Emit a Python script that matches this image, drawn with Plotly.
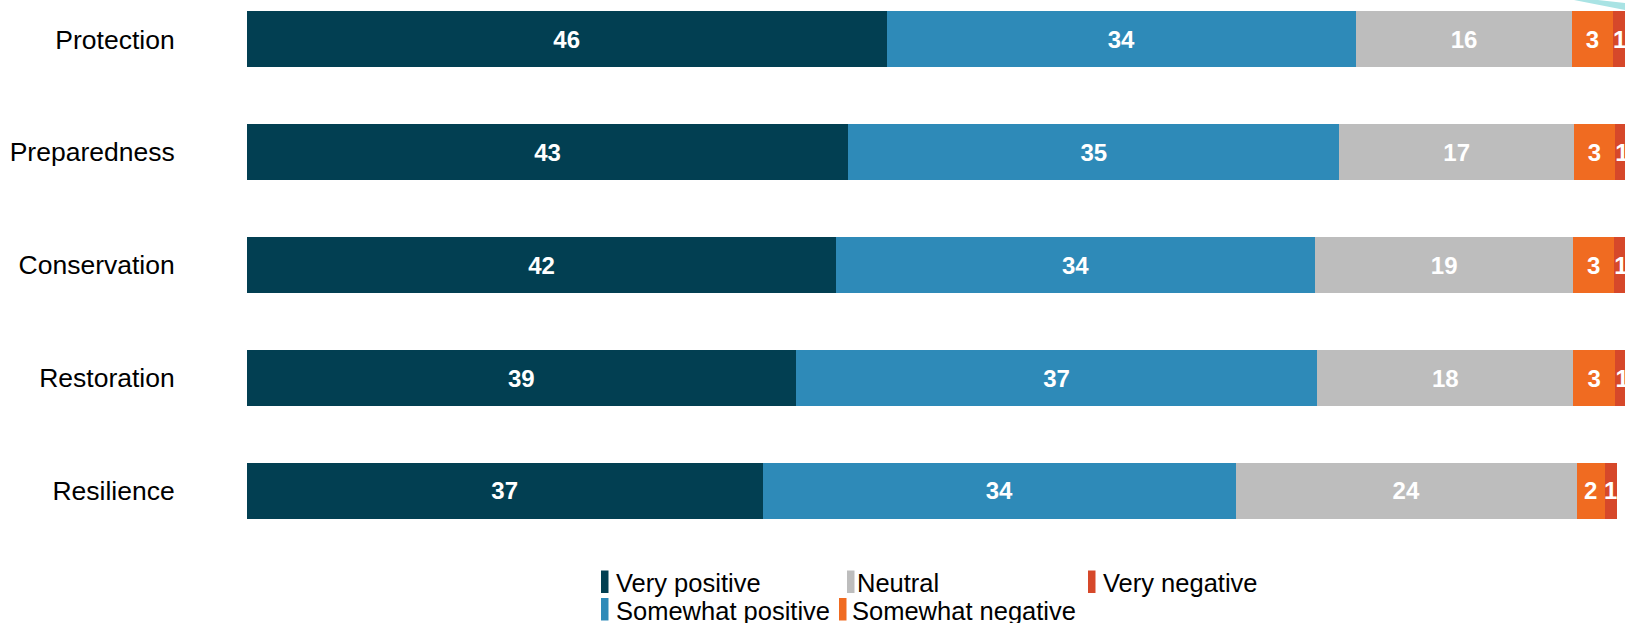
import plotly.graph_objects as go

W, H = 1625, 623

categories = ["Protection", "Preparedness", "Conservation", "Restoration", "Resilience"]
series_names = ["Very positive", "Somewhat positive", "Neutral", "Somewhat negative", "Very negative"]
very_positive = [45.98, 43.22, 42.36, 39.45, 37.07]
somewhat_positive = [33.71, 35.27, 34.39, 37.47, 34.00]
neutral = [15.54, 16.88, 18.56, 18.39, 24.47]
somewhat_negative = [2.90, 2.92, 2.92, 3.00, 2.03]
very_negative = [1.0, 1.0, 1.0, 1.0, 0.84]

colors = ["#023f52", "#2e8ab8", "#bdbdbd", "#f06b21", "#d6482a"]
series = [very_positive, somewhat_positive, neutral, somewhat_negative, very_negative]

FONT = "Liberation Sans, Arial, Helvetica, sans-serif"

fig = go.Figure()
for name, vals, col in zip(series_names, series, colors):
    fig.add_trace(go.Bar(
        y=categories, x=vals, name=name, orientation="h",
        marker=dict(color=col, line=dict(width=0)),
        width=0.495,
        texttemplate="%{x:.0f}", textposition="inside",
        insidetextanchor="middle", textangle=0, constraintext="none",
        insidetextfont=dict(family=FONT, size=24, color="white", weight="bold"),
        showlegend=False,
    ))

def px(x):
    return x / W

def py(y):
    return 1 - y / H

shapes = []
annotations = []
# custom legend (tall narrow swatches)
legend_items = [
    ("Very positive", colors[0], 601, 570.5, 616),
    ("Somewhat positive", colors[1], 601, 598, 616),
    ("Neutral", colors[2], 847, 570.5, 858),
    ("Somewhat negative", colors[3], 839, 598, 852),
    ("Very negative", colors[4], 1088, 570.5, 1103),
]
for label, col, sx, sy, tx in legend_items:
    shapes.append(dict(type="rect", xref="paper", yref="paper",
                       x0=px(sx), x1=px(sx + 7.5), y0=py(sy), y1=py(sy + 22.5),
                       fillcolor=col, line=dict(width=0)))
    annotations.append(dict(xref="paper", yref="paper", x=px(tx - 2.5), y=py(sy + 12.5),
                            xanchor="left", yanchor="middle", showarrow=False,
                            text=label, font=dict(family=FONT, size=25.5, color="black")))

# decorative cyan band at top-right corner
shapes.append(dict(type="path", xref="paper", yref="paper", layer="below",
                   path=f"M {px(1574)} {py(0)} L {px(1598)} {py(0)} L {px(1625)} {py(3)} L {px(1625)} {py(10)} Z",
                   fillcolor="#a9e3e4", line=dict(width=0)))

fig.update_layout(
    width=W, height=H, autosize=False,
    margin=dict(l=0, r=0, t=0, b=0),
    paper_bgcolor="white", plot_bgcolor="white",
    barmode="stack",
    xaxis=dict(domain=[246.7 / W, 1], range=[0, 99.02], visible=False, fixedrange=True),
    yaxis=dict(domain=[0, 1], range=[5.170, -0.348], type="category",
               showgrid=False, zeroline=False, showline=False, ticks="",
               ticklabelstandoff=71,
               tickfont=dict(family=FONT, size=26.5, color="black")),
    shapes=shapes, annotations=annotations,
    font=dict(family=FONT),
)

fig.write_html(
    "out.html",
    config={"displayModeBar": False},
    post_script="document.body.style.margin='0';document.body.style.overflow='hidden';document.documentElement.style.overflow='hidden';",
)
